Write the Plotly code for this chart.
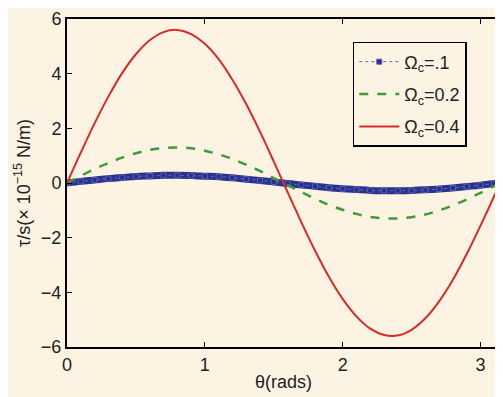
import plotly.graph_objects as go

theta = [0, 0.1, 0.2, 0.3, 0.4, 0.5, 0.6, 0.7, 0.8, 0.9, 1.0, 1.1, 1.2, 1.3, 1.4, 1.5,
         1.6, 1.7, 1.8, 1.9, 2.0, 2.1, 2.2, 2.3, 2.4, 2.5, 2.6, 2.7, 2.8, 2.9, 3.0, 3.1, 3.1416]
tau_01 = [0, 0.06, 0.11, 0.16, 0.20, 0.24, 0.26, 0.28, 0.28, 0.27, 0.25, 0.23, 0.19, 0.14, 0.09, 0.04,
          -0.02, -0.07, -0.12, -0.17, -0.21, -0.24, -0.27, -0.28, -0.28, -0.27, -0.25, -0.22, -0.18, -0.13, -0.08, -0.02, 0]
tau_02 = [0, 0.26, 0.51, 0.73, 0.93, 1.09, 1.21, 1.28, 1.30, 1.27, 1.18, 1.05, 0.88, 0.67, 0.44, 0.18,
          -0.08, -0.33, -0.58, -0.80, -0.98, -1.13, -1.24, -1.29, -1.30, -1.25, -1.15, -1.00, -0.82, -0.60, -0.36, -0.11, 0]
tau_04 = [0, 1.11, 2.18, 3.16, 4.02, 4.71, 5.22, 5.52, 5.60, 5.45, 5.09, 4.53, 3.78, 2.89, 1.88, 0.79,
          -0.33, -1.43, -2.48, -3.43, -4.24, -4.88, -5.33, -5.56, -5.58, -5.37, -4.95, -4.33, -3.54, -2.60, -1.56, -0.47, 0]

names = ["Ω<sub>c</sub>=.1", "Ω<sub>c</sub>=0.2", "Ω<sub>c</sub>=0.4"]
xticks = [0, 1, 2, 3]
yticks = [-6, -4, -2, 0, 2, 4, 6]

bg = "#fdf3e2"
fig = go.Figure()
# thick band beneath blue markers (dense markers in the original)
fig.add_trace(go.Scatter(x=theta, y=tau_01, mode="lines", showlegend=False, hoverinfo="skip",
                         line=dict(color="#26338f", width=7, shape="spline")))
fig.add_trace(go.Scatter(x=theta, y=tau_01, name=names[0], mode="lines+markers",
                         line=dict(color="#5a6ab8", width=1, dash="dot", shape="spline"),
                         marker=dict(symbol="square", size=5, color="#1f2f94",
                                     line=dict(color="#6a5aa8", width=1)),
                         legendgroup="a"))
fig.add_trace(go.Scatter(x=theta, y=tau_02, name=names[1], mode="lines",
                         line=dict(color="#3f9a3a", width=2.5, dash="dash", shape="spline"),
                         legendgroup="b"))
fig.add_trace(go.Scatter(x=theta, y=tau_04, name=names[2], mode="lines",
                         line=dict(color="#d92a2a", width=2, shape="spline"),
                         legendgroup="c"))

axis_common = dict(showgrid=False, zeroline=False, showline=True, linecolor="black",
                   linewidth=2, mirror="ticks", ticks="inside", ticklen=5, automargin=False,
                   ticklabeloverflow="allow",
                   tickcolor="black", tickfont=dict(size=18, color="#222"))
fig.update_xaxes(range=[0, 3.1416], tickvals=xticks, **axis_common)
fig.update_yaxes(range=[-6, 6], tickvals=yticks, **axis_common)

# page body has an 8px margin, so the figure is sized/offset to land at the reference spot
fig.update_layout(
    width=495, height=389,
    margin=dict(l=59, r=3, t=11, b=50),
    paper_bgcolor=bg, plot_bgcolor=bg,
    font=dict(family="Liberation Sans, Arial, sans-serif", color="#222"),
    legend=dict(x=0.66, y=0.93, xanchor="left", yanchor="top",
                bgcolor=bg, bordercolor="black", borderwidth=1.5,
                font=dict(size=18), tracegroupgap=6, itemwidth=40),
    showlegend=True,
    annotations=[
        dict(text="θ(rads)", xref="paper", yref="paper", x=0.5, y=-0.107,
             xanchor="center", yanchor="middle", showarrow=False,
             font=dict(size=18, color="#222")),
        dict(text="τ/s(× 10<sup>−15</sup> N/m)", xref="paper", yref="paper",
             x=-0.104, y=0.5, xanchor="center", yanchor="middle", textangle=-90,
             showarrow=False, font=dict(size=18, color="#222")),
    ],
)
fig.write_html("out.html")
